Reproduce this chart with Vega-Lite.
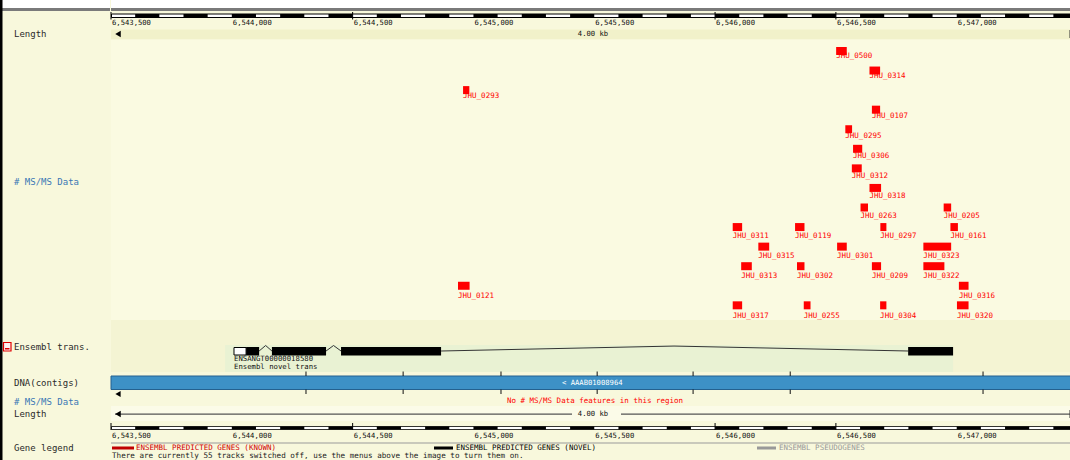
{
  "$schema": "https://vega.github.io/schema/vega-lite/v6.json",
  "padding": 0,
  "spacing": 0,
  "background": "#f8f8dc",
  "config": {"view": {"stroke": null}, "concat": {"spacing": 0}, "text": {"font": "DejaVu Sans Mono"}},
  "datasets": {
    "features": [
      {"name": "JHU_0500", "s": 6546501, "e": 6546545, "lane": 0},
      {"name": "JHU_0314", "s": 6546639, "e": 6546683, "lane": 1},
      {"name": "JHU_0293", "s": 6544957, "e": 6544983, "lane": 2},
      {"name": "JHU_0107", "s": 6546649, "e": 6546683, "lane": 3},
      {"name": "JHU_0295", "s": 6546539, "e": 6546567, "lane": 4},
      {"name": "JHU_0306", "s": 6546571, "e": 6546609, "lane": 5},
      {"name": "JHU_0312", "s": 6546566, "e": 6546607, "lane": 6},
      {"name": "JHU_0318", "s": 6546639, "e": 6546687, "lane": 7},
      {"name": "JHU_0263", "s": 6546602, "e": 6546633, "lane": 8},
      {"name": "JHU_0205", "s": 6546946, "e": 6546977, "lane": 8},
      {"name": "JHU_0311", "s": 6546073, "e": 6546112, "lane": 9},
      {"name": "JHU_0119", "s": 6546331, "e": 6546370, "lane": 9},
      {"name": "JHU_0297", "s": 6546684, "e": 6546709, "lane": 9},
      {"name": "JHU_0161", "s": 6546974, "e": 6547005, "lane": 9},
      {"name": "JHU_0315", "s": 6546179, "e": 6546224, "lane": 10},
      {"name": "JHU_0301", "s": 6546505, "e": 6546545, "lane": 10},
      {"name": "JHU_0323", "s": 6546862, "e": 6546977, "lane": 10},
      {"name": "JHU_0313", "s": 6546108, "e": 6546152, "lane": 11},
      {"name": "JHU_0302", "s": 6546339, "e": 6546370, "lane": 11},
      {"name": "JHU_0209", "s": 6546649, "e": 6546687, "lane": 11},
      {"name": "JHU_0322", "s": 6546862, "e": 6546949, "lane": 11},
      {"name": "JHU_0121", "s": 6544936, "e": 6544984, "lane": 12},
      {"name": "JHU_0316", "s": 6547009, "e": 6547049, "lane": 12},
      {"name": "JHU_0317", "s": 6546073, "e": 6546112, "lane": 13},
      {"name": "JHU_0255", "s": 6546367, "e": 6546395, "lane": 13},
      {"name": "JHU_0304", "s": 6546683, "e": 6546709, "lane": 13},
      {"name": "JHU_0320", "s": 6547001, "e": 6547049, "lane": 13}
    ],
    "ruler": [
      {"s": 6543600, "e": 6543700}, {"s": 6543800, "e": 6543900}, {"s": 6544000, "e": 6544100},
      {"s": 6544200, "e": 6544300}, {"s": 6544400, "e": 6544500}, {"s": 6544600, "e": 6544700},
      {"s": 6544800, "e": 6544900}, {"s": 6545000, "e": 6545100}, {"s": 6545200, "e": 6545300},
      {"s": 6545400, "e": 6545500}, {"s": 6545600, "e": 6545700}, {"s": 6545800, "e": 6545900},
      {"s": 6546000, "e": 6546100}, {"s": 6546200, "e": 6546300}, {"s": 6546400, "e": 6546500},
      {"s": 6546600, "e": 6546700}, {"s": 6546800, "e": 6546900}, {"s": 6547000, "e": 6547100},
      {"s": 6547200, "e": 6547300}, {"s": 6547400, "e": 6547473}
    ],
    "ticklabels": [
      {"s": 6543500, "label": "6,543,500"}, {"s": 6544000, "label": "6,544,000"},
      {"s": 6544500, "label": "6,544,500"}, {"s": 6545000, "label": "6,545,000"},
      {"s": 6545500, "label": "6,545,500"}, {"s": 6546000, "label": "6,546,000"},
      {"s": 6546500, "label": "6,546,500"}, {"s": 6547000, "label": "6,547,000"}
    ],
    "majorticks": [{"s": 6543500}, {"s": 6544500}, {"s": 6546000}, {"s": 6546500}],
    "dnaticks": [{"s": 6544307}, {"s": 6544709}, {"s": 6545114}, {"s": 6545512}, {"s": 6545909}, {"s": 6546311}, {"s": 6547109}],
    "exons": [
      {"s": 6544059, "e": 6544113}, {"s": 6544166, "e": 6544390},
      {"s": 6544452, "e": 6544866}, {"s": 6546799, "e": 6546985}
    ],
    "introns": [
      {"s": 6544113, "h": 0, "grp": "i1"}, {"s": 6544140, "h": 1, "grp": "i1"}, {"s": 6544166, "h": 0, "grp": "i1"},
      {"s": 6544390, "h": 0, "grp": "i2"}, {"s": 6544421, "h": 1, "grp": "i2"}, {"s": 6544452, "h": 0, "grp": "i2"},
      {"s": 6544866, "h": 0, "grp": "i3"}, {"s": 6545830, "h": 0.9, "grp": "i3"}, {"s": 6546799, "h": 0, "grp": "i3"}
    ]
  },
  "hconcat": [
    {
      "width": 110,
      "height": 460,
      "layer": [
        {"data": {"values": [{}]}, "mark": {"type": "rect", "x": 0, "x2": 110, "y": 0, "y2": 8, "fill": "#ffffff"}, "encoding": {}},
        {"data": {"values": [{}]}, "mark": {"type": "rect", "x": 0, "x2": 110, "y": 8, "y2": 11, "fill": "#7a7a7a"}, "encoding": {}},
        {"data": {"values": [{}]}, "mark": {"type": "rect", "x": 0, "x2": 2.5, "y": 0, "y2": 460, "fill": "#000000"}, "encoding": {}},
        {"data": {"values": [{}]}, "mark": {"type": "rect", "x": 3.5, "x2": 11, "y": 342.5, "y2": 351, "fill": "#fff4f4", "stroke": "#e00000", "strokeWidth": 1.2}, "encoding": {}},
        {"data": {"values": [{}]}, "mark": {"type": "rect", "x": 5, "x2": 9.5, "y": 348, "y2": 349.5, "fill": "#e00000"}, "encoding": {}},
        {"data": {"values": [{}]}, "mark": {"type": "text", "text": "Length", "x": 14, "y": 34, "align": "left", "baseline": "middle", "fontSize": 9, "color": "#2a2a2a"}, "encoding": {}},
        {"data": {"values": [{}]}, "mark": {"type": "text", "text": "# MS/MS Data", "x": 14, "y": 182, "align": "left", "baseline": "middle", "fontSize": 9, "color": "#3a77b5"}, "encoding": {}},
        {"data": {"values": [{}]}, "mark": {"type": "text", "text": "Ensembl trans.", "x": 14, "y": 347, "align": "left", "baseline": "middle", "fontSize": 9, "color": "#2a2a2a"}, "encoding": {}},
        {"data": {"values": [{}]}, "mark": {"type": "text", "text": "DNA(contigs)", "x": 14, "y": 383, "align": "left", "baseline": "middle", "fontSize": 9, "color": "#2a2a2a"}, "encoding": {}},
        {"data": {"values": [{}]}, "mark": {"type": "text", "text": "# MS/MS Data", "x": 14, "y": 401.5, "align": "left", "baseline": "middle", "fontSize": 9, "color": "#3a77b5"}, "encoding": {}},
        {"data": {"values": [{}]}, "mark": {"type": "text", "text": "Length", "x": 14, "y": 414, "align": "left", "baseline": "middle", "fontSize": 9, "color": "#2a2a2a"}, "encoding": {}},
        {"data": {"values": [{}]}, "mark": {"type": "text", "text": "Gene legend", "x": 14, "y": 448, "align": "left", "baseline": "middle", "fontSize": 9, "color": "#2a2a2a"}, "encoding": {}}
      ]
    },
    {
      "width": 960,
      "height": 460,
      "resolve": {"scale": {"y": "independent"}},
      "layer": [
        {"data": {"values": [{}]}, "mark": {"type": "rect", "x": 0, "x2": 960, "y": 0, "y2": 8, "fill": "#ffffff"}, "encoding": {}},
        {"data": {"values": [{}]}, "mark": {"type": "rect", "x": 0, "x2": 960, "y": 8, "y2": 11, "fill": "#7a7a7a"}, "encoding": {}},
        {"data": {"values": [{}]}, "mark": {"type": "rect", "x": 0, "x2": 960, "y": 29.5, "y2": 39.5, "fill": "#f1f1ca"}, "encoding": {}},
        {"data": {"values": [{}]}, "mark": {"type": "rect", "x": 0, "x2": 960, "y": 39.5, "y2": 320, "fill": "#fafae1"}, "encoding": {}},
        {"data": {"values": [{}]}, "mark": {"type": "rect", "x": 0, "x2": 960, "y": 320, "y2": 372, "fill": "#f4f4d3"}, "encoding": {}},
        {"data": {"values": [{}]}, "mark": {"type": "rect", "x": 0, "x2": 960, "y": 406, "y2": 421, "fill": "#fbfbe8"}, "encoding": {}},
        {"data": {"values": [{"s": 6543972, "e": 6546985}]}, "mark": {"type": "rect", "y": 345, "y2": 372, "fill": "#e9f2d3"},
         "encoding": {"x": {"field": "s", "type": "quantitative", "scale": {"domain": [6543500, 6547473], "nice": false, "zero": false}, "axis": null}, "x2": {"field": "e"}}},

        {"data": {"values": [{}]}, "mark": {"type": "rect", "x": 0.5, "x2": 960, "y": 14, "y2": 17.5, "fill": "#ffffff", "stroke": "#000000", "strokeWidth": 1}, "encoding": {}},
        {"data": {"name": "ruler"}, "mark": {"type": "rect", "y": 14, "y2": 17.5, "fill": "#000000"},
         "encoding": {"x": {"field": "s", "type": "quantitative", "scale": {"domain": [6543500, 6547473], "nice": false, "zero": false}, "axis": null}, "x2": {"field": "e"}}},
        {"data": {"name": "majorticks"}, "mark": {"type": "rule", "y": 12, "y2": 19.5, "color": "#000000", "strokeWidth": 1},
         "encoding": {"x": {"field": "s", "type": "quantitative", "scale": {"domain": [6543500, 6547473], "nice": false, "zero": false}, "axis": null}}},
        {"data": {"name": "ticklabels"}, "mark": {"type": "text", "y": 23, "dx": 1, "align": "left", "baseline": "middle", "fontSize": 7.2, "color": "#111111"},
         "encoding": {"x": {"field": "s", "type": "quantitative", "scale": {"domain": [6543500, 6547473], "nice": false, "zero": false}, "axis": null}, "text": {"field": "label"}}},
        {"data": {"values": [{}]}, "mark": {"type": "point", "shape": "triangle-left", "filled": true, "size": 40, "x": 7, "y": 34, "color": "#000000", "opacity": 1}, "encoding": {}},
        {"data": {"values": [{}]}, "mark": {"type": "text", "text": "4.00 kb", "x": 482, "y": 34, "align": "center", "baseline": "middle", "fontSize": 7.2, "color": "#111111"}, "encoding": {}},
        {"data": {"values": [{}]}, "mark": {"type": "rect", "x": 958.5, "x2": 959.5, "y": 30, "y2": 38, "fill": "#333333"}, "encoding": {}},

        {"data": {"name": "features"}, "mark": {"type": "bar", "height": 8, "color": "#ff0000"},
         "encoding": {
           "x": {"field": "s", "type": "quantitative", "scale": {"domain": [6543500, 6547473], "nice": false, "zero": false}, "axis": null},
           "x2": {"field": "e"},
           "y": {"field": "lane", "type": "quantitative", "scale": {"domain": [-2.35, 20.65], "reverse": true, "nice": false, "zero": false}, "axis": null}
         }},
        {"data": {"name": "features"}, "mark": {"type": "text", "dy": 9, "align": "left", "baseline": "middle", "fontSize": 7.5, "color": "#ff0000"},
         "encoding": {
           "x": {"field": "s", "type": "quantitative", "scale": {"domain": [6543500, 6547473], "nice": false, "zero": false}, "axis": null},
           "y": {"field": "lane", "type": "quantitative", "scale": {"domain": [-2.35, 20.65], "reverse": true, "nice": false, "zero": false}, "axis": null},
           "text": {"field": "name"}
         }},

        {"data": {"name": "introns"}, "mark": {"type": "line", "color": "#333333", "strokeWidth": 1},
         "encoding": {
           "x": {"field": "s", "type": "quantitative", "scale": {"domain": [6543500, 6547473], "nice": false, "zero": false}, "axis": null},
           "y": {"field": "h", "type": "quantitative", "scale": {"domain": [0, 1], "range": [351, 345.5], "nice": false, "zero": false}, "axis": null},
           "detail": {"field": "grp"}
         }},
        {"data": {"name": "exons"}, "mark": {"type": "rect", "y": 347, "y2": 355.5, "fill": "#000000"},
         "encoding": {"x": {"field": "s", "type": "quantitative", "scale": {"domain": [6543500, 6547473], "nice": false, "zero": false}, "axis": null}, "x2": {"field": "e"}}},
        {"data": {"values": [{"s": 6544009, "e": 6544059}]}, "mark": {"type": "rect", "y": 347.5, "y2": 355, "fill": "#ffffff", "stroke": "#000000", "strokeWidth": 1},
         "encoding": {"x": {"field": "s", "type": "quantitative", "scale": {"domain": [6543500, 6547473], "nice": false, "zero": false}, "axis": null}, "x2": {"field": "e"}}},
        {"data": {"values": [{"s": 6544009, "t": "ENSANGT00000018580"}]}, "mark": {"type": "text", "y": 358.5, "align": "left", "baseline": "middle", "fontSize": 7.3, "color": "#111111"},
         "encoding": {"x": {"field": "s", "type": "quantitative", "scale": {"domain": [6543500, 6547473], "nice": false, "zero": false}, "axis": null}, "text": {"field": "t"}}},
        {"data": {"values": [{"s": 6544009, "t": "Ensembl novel trans"}]}, "mark": {"type": "text", "y": 367, "align": "left", "baseline": "middle", "fontSize": 7.3, "color": "#111111"},
         "encoding": {"x": {"field": "s", "type": "quantitative", "scale": {"domain": [6543500, 6547473], "nice": false, "zero": false}, "axis": null}, "text": {"field": "t"}}},

        {"data": {"values": [{}]}, "mark": {"type": "rect", "x": 0, "x2": 960, "y": 376, "y2": 389.5, "fill": "#3d91c6", "stroke": "#24618f", "strokeWidth": 1}, "encoding": {}},
        {"data": {"name": "dnaticks"}, "mark": {"type": "rule", "y": 371.5, "y2": 376, "color": "#111111", "strokeWidth": 1},
         "encoding": {"x": {"field": "s", "type": "quantitative", "scale": {"domain": [6543500, 6547473], "nice": false, "zero": false}, "axis": null}}},
        {"data": {"name": "dnaticks"}, "mark": {"type": "rule", "y": 389.5, "y2": 394, "color": "#111111", "strokeWidth": 1},
         "encoding": {"x": {"field": "s", "type": "quantitative", "scale": {"domain": [6543500, 6547473], "nice": false, "zero": false}, "axis": null}}},
        {"data": {"values": [{}]}, "mark": {"type": "text", "text": "< AAAB01008964", "x": 451, "y": 383, "align": "left", "baseline": "middle", "fontSize": 7.2, "color": "#ffffff"}, "encoding": {}},
        {"data": {"values": [{}]}, "mark": {"type": "point", "shape": "triangle-left", "filled": true, "size": 36, "x": 7, "y": 394, "color": "#000000", "opacity": 1}, "encoding": {}},
        {"data": {"values": [{}]}, "mark": {"type": "text", "text": "No # MS/MS Data features in this region", "x": 484, "y": 400.5, "align": "center", "baseline": "middle", "fontSize": 7.5, "color": "#ff0000"}, "encoding": {}},

        {"data": {"values": [{}]}, "mark": {"type": "rect", "x": 4, "x2": 461, "y": 413.5, "y2": 414.7, "fill": "#555555"}, "encoding": {}},
        {"data": {"values": [{}]}, "mark": {"type": "rect", "x": 510, "x2": 960, "y": 413.5, "y2": 414.7, "fill": "#555555"}, "encoding": {}},
        {"data": {"values": [{}]}, "mark": {"type": "rect", "x": 958.5, "x2": 959.5, "y": 410, "y2": 418, "fill": "#333333"}, "encoding": {}},
        {"data": {"values": [{}]}, "mark": {"type": "point", "shape": "triangle-left", "filled": true, "size": 40, "x": 7, "y": 414, "color": "#000000", "opacity": 1}, "encoding": {}},
        {"data": {"values": [{}]}, "mark": {"type": "text", "text": "4.00 kb", "x": 482, "y": 414, "align": "center", "baseline": "middle", "fontSize": 7.2, "color": "#111111"}, "encoding": {}},

        {"data": {"values": [{}]}, "mark": {"type": "rect", "x": 0.5, "x2": 960, "y": 426.5, "y2": 429.5, "fill": "#ffffff", "stroke": "#000000", "strokeWidth": 0.8}, "encoding": {}},
        {"data": {"name": "ruler"}, "mark": {"type": "rect", "y": 426.5, "y2": 429.5, "fill": "#000000"},
         "encoding": {"x": {"field": "s", "type": "quantitative", "scale": {"domain": [6543500, 6547473], "nice": false, "zero": false}, "axis": null}, "x2": {"field": "e"}}},
        {"data": {"name": "majorticks"}, "mark": {"type": "rule", "y": 423, "y2": 430, "color": "#000000", "strokeWidth": 1},
         "encoding": {"x": {"field": "s", "type": "quantitative", "scale": {"domain": [6543500, 6547473], "nice": false, "zero": false}, "axis": null}}},
        {"data": {"name": "ticklabels"}, "mark": {"type": "text", "y": 435.5, "dx": 1, "align": "left", "baseline": "middle", "fontSize": 7.2, "color": "#111111"},
         "encoding": {"x": {"field": "s", "type": "quantitative", "scale": {"domain": [6543500, 6547473], "nice": false, "zero": false}, "axis": null}, "text": {"field": "label"}}},
        {"data": {"values": [{}]}, "mark": {"type": "rect", "x": 0, "x2": 960, "y": 442.5, "y2": 443.5, "fill": "#9a9a9a"}, "encoding": {}},

        {"data": {"values": [{}]}, "mark": {"type": "rect", "x": 1, "x2": 23, "y": 446.5, "y2": 449.5, "fill": "#c00000"}, "encoding": {}},
        {"data": {"values": [{}]}, "mark": {"type": "text", "text": "ENSEMBL PREDICTED GENES (KNOWN)", "x": 25, "y": 448, "align": "left", "baseline": "middle", "fontSize": 7.5, "color": "#d00000"}, "encoding": {}},
        {"data": {"values": [{}]}, "mark": {"type": "rect", "x": 323, "x2": 342, "y": 446.5, "y2": 449.5, "fill": "#000000"}, "encoding": {}},
        {"data": {"values": [{}]}, "mark": {"type": "text", "text": "ENSEMBL PREDICTED GENES (NOVEL)", "x": 345, "y": 448, "align": "left", "baseline": "middle", "fontSize": 7.5, "color": "#000000"}, "encoding": {}},
        {"data": {"values": [{}]}, "mark": {"type": "rect", "x": 646, "x2": 665, "y": 446.5, "y2": 449.5, "fill": "#999999"}, "encoding": {}},
        {"data": {"values": [{}]}, "mark": {"type": "text", "text": "ENSEMBL PSEUDOGENES", "x": 668, "y": 448, "align": "left", "baseline": "middle", "fontSize": 7.5, "color": "#999999"}, "encoding": {}},
        {"data": {"values": [{}]}, "mark": {"type": "text", "text": "There are currently 55 tracks switched off, use the menus above the image to turn them on.", "x": 1, "y": 455.5, "align": "left", "baseline": "middle", "fontSize": 7.6, "color": "#222222"}, "encoding": {}}
      ]
    }
  ]
}
